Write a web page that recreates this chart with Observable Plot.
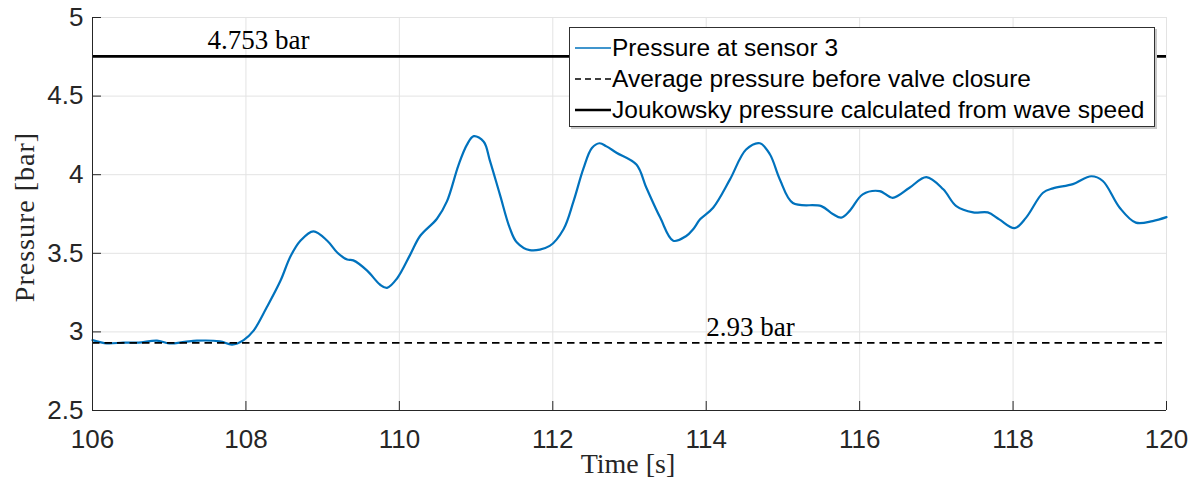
<!DOCTYPE html>
<html>
<head>
<meta charset="utf-8">
<script src="https://cdn.jsdelivr.net/npm/d3@7"></script>
<script src="https://cdn.jsdelivr.net/npm/@observablehq/plot@0.6"></script>
<style>
  body { margin: 0; background: #fff; }
  #wrap { position: relative; width: 1195px; height: 488px; }
  #legend {
    position: absolute; left: 569px; top: 27px; width: 586px; height: 100px;
    border: 1px solid #303030; background: #fff; box-shadow: 2px 2px 0 #c8c8c8;
    font-family: "Liberation Sans", Arial, sans-serif; font-size: 24.5px; color: #000;
    box-sizing: border-box;
  }
  .row { position: absolute; left: 5px; height: 32px; display: flex; align-items: center; white-space: nowrap; }
  .row svg { margin-right: 1px; }
</style>
</head>
<body>
<div id="wrap"></div>
<script>
const time = [106.0,106.19,106.4,106.6,106.84,107.0,107.2,107.36,107.66,107.82,107.97,108.1,108.27,108.45,108.58,108.71,108.88,109.06,109.19,109.32,109.40,109.58,109.75,109.84,109.97,110.14,110.27,110.49,110.62,110.77,110.88,110.97,111.1,111.18,111.31,111.44,111.53,111.70,111.96,112.14,112.27,112.40,112.51,112.61,112.70,112.83,113.09,113.22,113.40,113.57,113.74,113.83,113.92,114.09,114.31,114.52,114.70,114.83,114.96,115.13,115.5,115.65,115.76,115.87,116.04,116.26,116.43,116.65,116.87,117.09,117.26,117.48,117.67,117.82,118.02,118.17,118.39,118.52,118.78,119.02,119.17,119.39,119.60,119.82,120.0];
const pressure = [2.948,2.927,2.932,2.932,2.944,2.927,2.936,2.944,2.94,2.919,2.948,3.008,3.155,3.325,3.48,3.58,3.64,3.58,3.505,3.46,3.455,3.39,3.30,3.28,3.34,3.49,3.61,3.72,3.83,4.06,4.19,4.245,4.21,4.09,3.875,3.66,3.57,3.52,3.547,3.653,3.83,4.04,4.17,4.20,4.18,4.14,4.065,3.917,3.727,3.58,3.61,3.653,3.716,3.79,3.97,4.16,4.20,4.13,3.97,3.82,3.80,3.75,3.727,3.77,3.875,3.896,3.853,3.917,3.985,3.907,3.80,3.76,3.76,3.716,3.66,3.727,3.885,3.913,3.94,3.99,3.96,3.79,3.695,3.705,3.73];
const averagePressure = 2.93;
const joukowskyPressure = 4.753;
const xTicks = [106,108,110,112,114,116,118,120];
const yTicks = [2.5,3,3.5,4,4.5,5];
const xDomain = [106,120];
const yDomain = [2.5,5];
const annotations = [
  {x: 107.5, y: joukowskyPressure, label: "4.753 bar"},
  {x: 114.0, y: averagePressure, label: "2.93 bar"}
];
const legendItems = [
  {label: "Pressure at sensor 3", color: "#0072BD", dash: null, width: 1.6},
  {label: "Average pressure before valve closure", color: "#000", dash: "6,4", width: 1.6},
  {label: "Joukowsky pressure calculated from wave speed", color: "#000", dash: null, width: 2.6}
];

const data = time.map((t, i) => ({t, p: pressure[i]}));
const serif = "'Liberation Serif', 'Times New Roman', serif";
const sans = "'Liberation Sans', Arial, sans-serif";

const chart = Plot.plot({
  width: 1195,
  height: 488,
  marginLeft: 92,
  marginRight: 29,
  marginTop: 17,
  marginBottom: 78,
  style: {fontFamily: sans, background: "#fff", overflow: "visible"},
  x: {domain: xDomain},
  y: {domain: yDomain},
  marks: [
    Plot.gridX(xTicks, {stroke: "#e3e3e3", strokeOpacity: 1}),
    Plot.gridY(yTicks, {stroke: "#e3e3e3", strokeOpacity: 1}),
    Plot.line(data, {x: "t", y: "p", stroke: "#0072BD", strokeWidth: 2.2, curve: "catmull-rom"}),
    Plot.ruleY([averagePressure], {stroke: "#000", strokeWidth: 1.8, strokeDasharray: "7.5,5"}),
    Plot.ruleY([joukowskyPressure], {stroke: "#000", strokeWidth: 2.8}),
    Plot.text(annotations, {x: "x", y: "y", text: "label", textAnchor: "start", lineAnchor: "bottom", dy: -7,
      fontFamily: serif, fontSize: 27, fill: "#000", letterSpacing: "1px"}),
    Plot.ruleX([xDomain[0]], {stroke: "#262626", strokeWidth: 1}),
    Plot.ruleY([yDomain[0]], {stroke: "#262626", strokeWidth: 1}),
    Plot.axisX(xTicks, {tickSize: 0, tickPadding: 19, fontSize: 26, fill: "#262626", label: null}),
    Plot.axisX(xTicks, {tickSize: -9, tickFormat: () => "", stroke: "#262626", label: null}),
    Plot.axisY(yTicks, {tickSize: 0, tickPadding: 9, fontSize: 26, fill: "#262626", label: null, tickFormat: d => String(d)}),
    Plot.axisY(yTicks, {tickSize: -9, tickFormat: () => "", stroke: "#262626", label: null})
  ]
});

const wrap = document.getElementById("wrap");
wrap.appendChild(chart);

// axis titles
const svg = d3.select(chart);
svg.append("text").attr("x", 628).attr("y", 473).attr("text-anchor", "middle")
  .attr("font-family", serif).attr("font-size", 28).attr("fill", "#262626").text("Time [s]");
svg.append("text").attr("transform", "translate(34,217) rotate(-90)").attr("text-anchor", "middle")
  .attr("font-family", serif).attr("font-size", 28).attr("fill", "#262626").attr("letter-spacing", "1px").text("Pressure [bar]");

// legend
const legend = document.createElement("div");
legend.id = "legend";
legendItems.forEach((d, i) => {
  const row = document.createElement("div");
  row.className = "row";
  row.style.top = (4 + i * 31) + "px";
  row.innerHTML = `<svg width="36" height="10"><line x1="0" x2="36" y1="5" y2="5" stroke="${d.color}" stroke-width="${d.width}" ${d.dash ? `stroke-dasharray="${d.dash}"` : ""}/></svg><span>${d.label}</span>`;
  legend.appendChild(row);
});
wrap.appendChild(legend);
</script>
</body>
</html>
